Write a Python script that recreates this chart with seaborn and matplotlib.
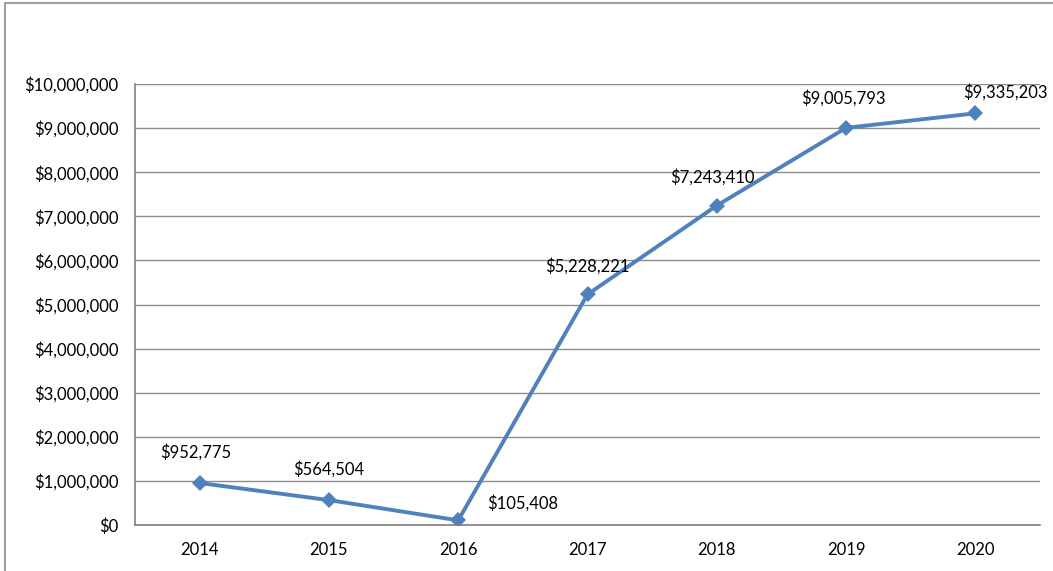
import matplotlib
matplotlib.use("Agg")
import matplotlib.pyplot as plt
import seaborn as sns
import pandas as pd
from matplotlib.lines import Line2D
from matplotlib.ticker import FuncFormatter

years = ["2014", "2015", "2016", "2017", "2018", "2019", "2020"]
values = [952775, 564504, 105408, 5228221, 7243410, 9005793, 9335203]

sns.set_theme(style="white")
plt.rcParams['font.family'] = ['Lato', 'DejaVu Sans']

df = pd.DataFrame({"year": years, "value": values})

fig = plt.figure(figsize=(10.53, 5.71), dpi=100)
ax = fig.add_axes([135/1053, 1-525/571, (1040-135)/1053, (525-84)/571])

sns.lineplot(data=df, x="year", y="value", ax=ax, color="#4F81BD", linewidth=2.8,
             marker="D", markersize=8.5, markeredgewidth=0, sort=False)

ax.set_ylim(0, 10_000_000)
ax.set_xlim(-0.5, len(years) - 0.5)
ax.set_yticks(range(0, 10_000_001, 1_000_000))
ax.yaxis.set_major_formatter(FuncFormatter(lambda v, p: f"${v:,.0f}"))
ax.grid(axis="y", color="#8c8c8c", linewidth=1)
ax.set_axisbelow(True)
ax.set_xlabel("")
ax.set_ylabel("")
for s in ["top", "right"]:
    ax.spines[s].set_visible(False)
for s in ["left", "bottom"]:
    ax.spines[s].set_color("#808080")
    ax.spines[s].set_linewidth(1.2)
ax.tick_params(axis="both", labelsize=12, colors="black", length=0)
ax.tick_params(axis="y", pad=12)
ax.tick_params(axis="x", pad=12)

offsets = [(-4, 22), (0, 22), (64, 9), (0, 20), (-4, 20), (-3, 21), (30, 13)]
for i, (v, off) in enumerate(zip(values, offsets)):
    ax.annotate(f"${v:,}", (i, v), xytext=off, textcoords="offset pixels",
                ha="center", va="bottom", fontsize=12, color="black")

fig.add_artist(Line2D([5/1053, 5/1053], [0, 1-3/571], transform=fig.transFigure,
                      color="#a0a0a0", linewidth=1.5))
fig.add_artist(Line2D([5/1053, 1], [1-3/571, 1-3/571], transform=fig.transFigure,
                      color="#a0a0a0", linewidth=1.5))

fig.savefig("out.png", dpi=100)
